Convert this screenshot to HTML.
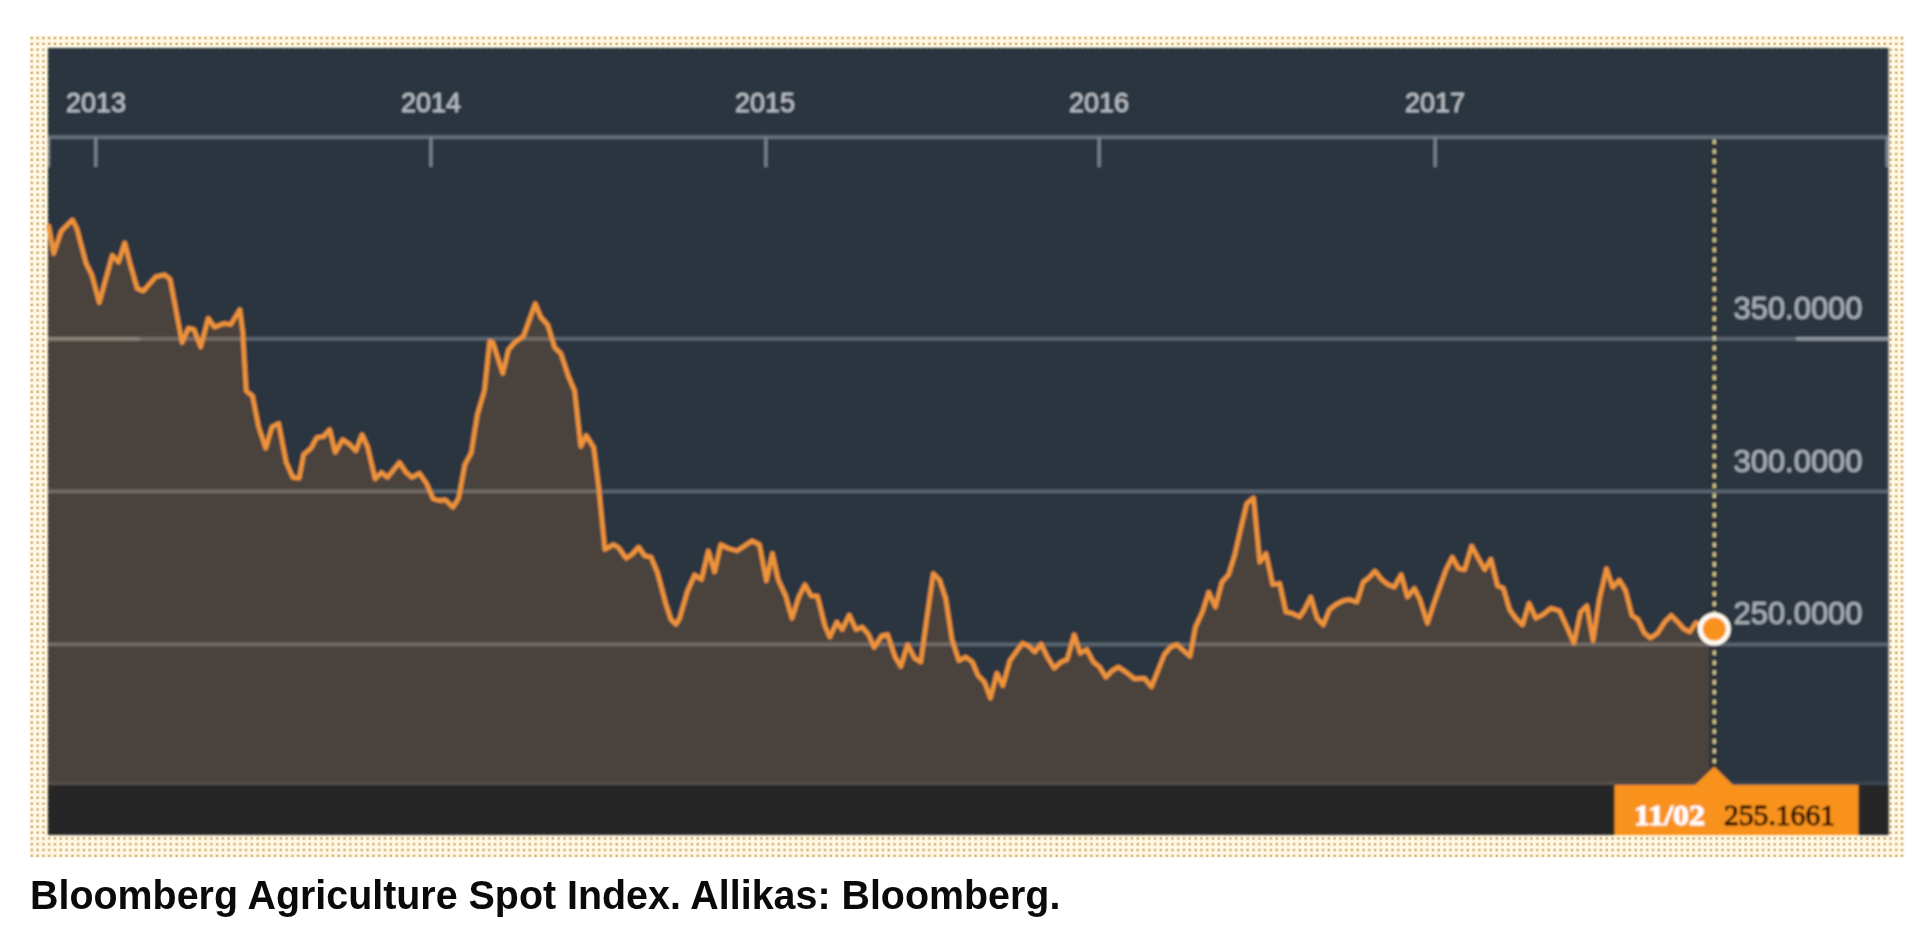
<!DOCTYPE html>
<html><head><meta charset="utf-8"><title>Bloomberg Agriculture Spot Index</title>
<style>
html,body{margin:0;padding:0;background:#fff;}
body{width:1920px;height:931px;overflow:hidden;position:relative;font-family:"Liberation Sans",sans-serif;}
svg{position:absolute;left:0;top:0;}
.ax{font-family:"Liberation Sans",sans-serif;fill:#bcc1c6;stroke:#bcc1c6;stroke-width:0.35px;}
.cap{filter:blur(0.4px);position:absolute;left:30px;top:872px;font:bold 41px "Liberation Sans",sans-serif;color:#0a0a0a;white-space:nowrap;transform-origin:0 0;transform:scaleX(0.961);}
</style></head><body>
<svg width="1920" height="931" viewBox="0 0 1920 931">
<defs>
<pattern id="dots" x="30.15" y="36.3" width="5.79" height="5.8" patternUnits="userSpaceOnUse">
<rect width="5.8" height="5.8" fill="#fff8e8"/>
<rect x="-0.3" y="-0.3" width="3.9" height="4" fill="#fdeec6"/>
<rect x="0.6" y="0.6" width="2.1" height="2.2" fill="#cbb184"/>
</pattern>
<filter id="soft" x="-2%" y="-2%" width="104%" height="104%"><feGaussianBlur stdDeviation="0.8"/></filter>
<filter id="soft2" x="-2%" y="-2%" width="104%" height="104%"><feGaussianBlur stdDeviation="0.35"/></filter>
<clipPath id="fillclip"><path d="M48.7,226.2 L53.7,253.6 L61.2,231.2 L72.4,219.9 L76.9,228.7 L86.1,263.6 L91.8,274.8 L99.3,302.7 L112.3,255.3 L118.5,262.3 L124.7,242.9 L129.7,262.3 L137.2,288.5 L143.4,291.0 L155.9,276.8 L164.6,274.8 L170.1,279.3 L182.1,342.6 L188.3,328.3 L194.0,329.6 L200.7,347.0 L208.2,318.4 L214.5,327.1 L224.4,323.4 L230.7,324.6 L239.9,309.7 L243.1,334.6 L243.0,337.4 L246.2,391.0 L252.5,396.0 L258.7,427.1 L265.7,448.3 L271.9,427.1 L278.6,423.4 L286.1,462.0 L292.8,477.4 L299.3,478.2 L303.6,454.5 L311.0,448.3 L316.8,437.6 L323.5,436.6 L329.7,429.6 L335.2,452.5 L342.7,439.6 L349.7,444.5 L355.9,450.8 L362.1,434.6 L367.6,447.0 L375.1,478.9 L381.6,472.5 L387.5,477.4 L399.5,462.5 L405.7,472.0 L412.0,477.4 L419.4,473.2 L426.4,483.2 L433.1,498.9 L439.4,500.6 L444.9,499.9 L446.2,500.6 L453.0,507.3 L458.7,498.1 L464.9,464.5 L471.2,453.2 L477.4,414.6 L484.4,390.9 L489.8,341.1 L492.8,342.3 L502.8,373.5 L508.5,349.8 L514.8,342.3 L523.5,336.1 L535.2,303.7 L540.9,317.4 L547.7,324.9 L554.6,347.3 L560.9,353.6 L568.3,376.0 L574.6,390.9 L580.8,446.5 L586.2,435.5 L593.7,447.4 L598.7,487.3 L604.9,549.6 L613.6,544.6 L618.6,547.6 L626.1,558.3 L632.3,554.1 L638.6,547.1 L644.8,555.9 L651.0,557.1 L657.3,572.1 L666.0,604.5 L671.0,619.4 L676.0,624.4 L679.7,618.2 L687.2,592.0 L694.6,575.0 L701.6,579.5 L708.3,550.9 L714.6,572.1 L720.8,544.6 L728.3,548.4 L737.0,550.9 L752.0,540.9 L759.4,544.6 L766.4,580.8 L772.4,553.4 L778.1,579.5 L785.6,595.7 L792.0,618.4 L798.7,597.2 L804.9,584.7 L811.2,596.0 L817.4,596.0 L824.9,625.9 L829.8,637.1 L836.8,622.1 L842.3,629.6 L849.3,615.1 L856.0,629.6 L862.2,627.1 L868.5,634.6 L874.2,647.5 L881.7,635.8 L887.7,634.6 L895.1,657.0 L900.9,666.5 L907.6,644.5 L914.6,658.3 L920.8,662.0 L927.0,617.1 L933.3,573.5 L939.5,579.8 L945.7,598.4 L952.0,639.6 L958.9,660.7 L965.7,657.0 L972.4,662.0 L978.1,675.7 L984.4,681.9 L990.5,698.1 L996.9,673.2 L1002.9,685.7 L1009.9,660.7 L1016.1,652.0 L1022.4,643.3 L1028.6,645.8 L1034.8,652.0 L1041.1,644.0 L1047.3,657.0 L1054.3,668.2 L1061.0,662.0 L1067.2,659.5 L1074.2,634.6 L1080.2,653.3 L1086.7,649.5 L1093.4,662.0 L1099.6,667.0 L1105.9,677.4 L1112.1,670.7 L1118.3,667.0 L1125.8,672.0 L1134.5,678.9 L1144.5,678.2 L1151.5,686.9 L1157.4,672.0 L1164.4,654.5 L1170.7,647.0 L1176.9,644.5 L1190.0,656.4 L1195.5,627.0 L1202.4,612.1 L1208.7,592.1 L1215.4,607.1 L1221.9,582.1 L1228.6,574.7 L1234.8,554.7 L1241.1,527.3 L1246.8,503.6 L1253.5,497.9 L1259.8,562.2 L1266.0,553.5 L1272.7,584.6 L1279.7,583.4 L1285.9,612.1 L1292.1,613.3 L1299.6,617.0 L1304.6,609.6 L1310.8,597.1 L1317.1,618.3 L1323.3,625.0 L1329.5,609.6 L1335.8,604.6 L1343.2,600.8 L1349.5,599.6 L1356.9,602.1 L1363.2,582.1 L1369.4,577.2 L1374.9,570.9 L1381.9,579.7 L1388.1,584.6 L1394.3,587.1 L1401.2,574.7 L1407.4,597.1 L1414.4,588.4 L1419.9,599.6 L1427.4,623.3 L1433.6,604.6 L1439.8,587.1 L1446.0,569.7 L1452.3,557.2 L1458.5,568.4 L1464.7,569.7 L1471.7,546.0 L1478.4,558.5 L1484.7,569.7 L1490.9,559.2 L1497.6,585.9 L1503.4,588.4 L1509.6,609.6 L1515.8,618.3 L1522.6,625.0 L1529.0,603.3 L1535.8,618.3 L1543.2,614.5 L1550.7,608.3 L1559.4,610.8 L1566.9,627.0 L1573.9,643.2 L1580.6,612.1 L1586.9,605.8 L1593.1,640.7 L1599.3,599.6 L1606.5,568.7 L1612.7,587.4 L1619.4,580.1 L1625.6,590.5 L1631.8,615.3 L1638.0,619.5 L1644.2,633.0 L1650.5,638.1 L1657.7,633.0 L1665.0,621.6 L1671.2,615.3 L1677.4,621.6 L1683.6,628.8 L1689.8,631.9 L1696.1,622.6 L1704.4,627.8 L1714.3,628.2 L1714.3,785 L48,785 L48,226 Z"/></clipPath>
</defs>
<rect x="29.5" y="35.5" width="1875" height="822" fill="url(#dots)" filter="url(#soft2)"/>
<g filter="url(#soft)">
<rect x="48" y="48" width="1840.5" height="787" fill="#2c3641"/>
<!-- area fill -->
<path d="M48.7,226.2 L53.7,253.6 L61.2,231.2 L72.4,219.9 L76.9,228.7 L86.1,263.6 L91.8,274.8 L99.3,302.7 L112.3,255.3 L118.5,262.3 L124.7,242.9 L129.7,262.3 L137.2,288.5 L143.4,291.0 L155.9,276.8 L164.6,274.8 L170.1,279.3 L182.1,342.6 L188.3,328.3 L194.0,329.6 L200.7,347.0 L208.2,318.4 L214.5,327.1 L224.4,323.4 L230.7,324.6 L239.9,309.7 L243.1,334.6 L243.0,337.4 L246.2,391.0 L252.5,396.0 L258.7,427.1 L265.7,448.3 L271.9,427.1 L278.6,423.4 L286.1,462.0 L292.8,477.4 L299.3,478.2 L303.6,454.5 L311.0,448.3 L316.8,437.6 L323.5,436.6 L329.7,429.6 L335.2,452.5 L342.7,439.6 L349.7,444.5 L355.9,450.8 L362.1,434.6 L367.6,447.0 L375.1,478.9 L381.6,472.5 L387.5,477.4 L399.5,462.5 L405.7,472.0 L412.0,477.4 L419.4,473.2 L426.4,483.2 L433.1,498.9 L439.4,500.6 L444.9,499.9 L446.2,500.6 L453.0,507.3 L458.7,498.1 L464.9,464.5 L471.2,453.2 L477.4,414.6 L484.4,390.9 L489.8,341.1 L492.8,342.3 L502.8,373.5 L508.5,349.8 L514.8,342.3 L523.5,336.1 L535.2,303.7 L540.9,317.4 L547.7,324.9 L554.6,347.3 L560.9,353.6 L568.3,376.0 L574.6,390.9 L580.8,446.5 L586.2,435.5 L593.7,447.4 L598.7,487.3 L604.9,549.6 L613.6,544.6 L618.6,547.6 L626.1,558.3 L632.3,554.1 L638.6,547.1 L644.8,555.9 L651.0,557.1 L657.3,572.1 L666.0,604.5 L671.0,619.4 L676.0,624.4 L679.7,618.2 L687.2,592.0 L694.6,575.0 L701.6,579.5 L708.3,550.9 L714.6,572.1 L720.8,544.6 L728.3,548.4 L737.0,550.9 L752.0,540.9 L759.4,544.6 L766.4,580.8 L772.4,553.4 L778.1,579.5 L785.6,595.7 L792.0,618.4 L798.7,597.2 L804.9,584.7 L811.2,596.0 L817.4,596.0 L824.9,625.9 L829.8,637.1 L836.8,622.1 L842.3,629.6 L849.3,615.1 L856.0,629.6 L862.2,627.1 L868.5,634.6 L874.2,647.5 L881.7,635.8 L887.7,634.6 L895.1,657.0 L900.9,666.5 L907.6,644.5 L914.6,658.3 L920.8,662.0 L927.0,617.1 L933.3,573.5 L939.5,579.8 L945.7,598.4 L952.0,639.6 L958.9,660.7 L965.7,657.0 L972.4,662.0 L978.1,675.7 L984.4,681.9 L990.5,698.1 L996.9,673.2 L1002.9,685.7 L1009.9,660.7 L1016.1,652.0 L1022.4,643.3 L1028.6,645.8 L1034.8,652.0 L1041.1,644.0 L1047.3,657.0 L1054.3,668.2 L1061.0,662.0 L1067.2,659.5 L1074.2,634.6 L1080.2,653.3 L1086.7,649.5 L1093.4,662.0 L1099.6,667.0 L1105.9,677.4 L1112.1,670.7 L1118.3,667.0 L1125.8,672.0 L1134.5,678.9 L1144.5,678.2 L1151.5,686.9 L1157.4,672.0 L1164.4,654.5 L1170.7,647.0 L1176.9,644.5 L1190.0,656.4 L1195.5,627.0 L1202.4,612.1 L1208.7,592.1 L1215.4,607.1 L1221.9,582.1 L1228.6,574.7 L1234.8,554.7 L1241.1,527.3 L1246.8,503.6 L1253.5,497.9 L1259.8,562.2 L1266.0,553.5 L1272.7,584.6 L1279.7,583.4 L1285.9,612.1 L1292.1,613.3 L1299.6,617.0 L1304.6,609.6 L1310.8,597.1 L1317.1,618.3 L1323.3,625.0 L1329.5,609.6 L1335.8,604.6 L1343.2,600.8 L1349.5,599.6 L1356.9,602.1 L1363.2,582.1 L1369.4,577.2 L1374.9,570.9 L1381.9,579.7 L1388.1,584.6 L1394.3,587.1 L1401.2,574.7 L1407.4,597.1 L1414.4,588.4 L1419.9,599.6 L1427.4,623.3 L1433.6,604.6 L1439.8,587.1 L1446.0,569.7 L1452.3,557.2 L1458.5,568.4 L1464.7,569.7 L1471.7,546.0 L1478.4,558.5 L1484.7,569.7 L1490.9,559.2 L1497.6,585.9 L1503.4,588.4 L1509.6,609.6 L1515.8,618.3 L1522.6,625.0 L1529.0,603.3 L1535.8,618.3 L1543.2,614.5 L1550.7,608.3 L1559.4,610.8 L1566.9,627.0 L1573.9,643.2 L1580.6,612.1 L1586.9,605.8 L1593.1,640.7 L1599.3,599.6 L1606.5,568.7 L1612.7,587.4 L1619.4,580.1 L1625.6,590.5 L1631.8,615.3 L1638.0,619.5 L1644.2,633.0 L1650.5,638.1 L1657.7,633.0 L1665.0,621.6 L1671.2,615.3 L1677.4,621.6 L1683.6,628.8 L1689.8,631.9 L1696.1,622.6 L1704.4,627.8 L1714.3,628.2 L1714.3,785 L48,785 L48,226 Z" fill="#4a423d"/>
<!-- cursor backing -->
<line x1="1713.8" y1="139" x2="1713.8" y2="768" stroke="#2b3037" stroke-width="9" />
<!-- gridlines -->
<g>
<rect x="48" y="135.2" width="1840.5" height="3.8" fill="#646d77"/>
<rect x="48" y="337" width="1840.5" height="3.6" fill="#5b6570"/>
<rect x="48" y="489.6" width="1840.5" height="3.6" fill="#5b6570"/>
<rect x="48" y="642.6" width="1840.5" height="3.6" fill="#5b6570"/>
<g clip-path="url(#fillclip)">
<rect x="48" y="337" width="1840.5" height="3.6" fill="#736b65"/>
<rect x="48" y="489.6" width="1840.5" height="3.6" fill="#736b65"/>
<rect x="48" y="642.6" width="1840.5" height="3.6" fill="#736b65"/>
<rect x="48" y="337" width="92" height="3.6" fill="#8a8078"/>
</g>
<rect x="1796" y="337" width="92.5" height="3.6" fill="#8e949b"/>
</g>
<!-- ticks -->
<g fill="#79828b">
<rect x="48" y="137" width="2" height="30"/>
<rect x="94.2" y="137" width="3.2" height="30"/>
<rect x="429.3" y="137" width="3.2" height="30"/>
<rect x="764.3" y="137" width="3.2" height="30"/>
<rect x="1097.5" y="137" width="3.2" height="30"/>
<rect x="1433.5" y="137" width="3.2" height="30"/>
<rect x="1885.5" y="137" width="3.2" height="30"/>
</g>
<rect x="48" y="781.5" width="1840.5" height="3.5" fill="#8a8f94" opacity="0.17"/>
<!-- bottom bar -->
<rect x="48" y="785" width="1840.5" height="50" fill="#252525"/>
<!-- line -->
<path d="M48.7,226.2 L53.7,253.6 L61.2,231.2 L72.4,219.9 L76.9,228.7 L86.1,263.6 L91.8,274.8 L99.3,302.7 L112.3,255.3 L118.5,262.3 L124.7,242.9 L129.7,262.3 L137.2,288.5 L143.4,291.0 L155.9,276.8 L164.6,274.8 L170.1,279.3 L182.1,342.6 L188.3,328.3 L194.0,329.6 L200.7,347.0 L208.2,318.4 L214.5,327.1 L224.4,323.4 L230.7,324.6 L239.9,309.7 L243.1,334.6 L243.0,337.4 L246.2,391.0 L252.5,396.0 L258.7,427.1 L265.7,448.3 L271.9,427.1 L278.6,423.4 L286.1,462.0 L292.8,477.4 L299.3,478.2 L303.6,454.5 L311.0,448.3 L316.8,437.6 L323.5,436.6 L329.7,429.6 L335.2,452.5 L342.7,439.6 L349.7,444.5 L355.9,450.8 L362.1,434.6 L367.6,447.0 L375.1,478.9 L381.6,472.5 L387.5,477.4 L399.5,462.5 L405.7,472.0 L412.0,477.4 L419.4,473.2 L426.4,483.2 L433.1,498.9 L439.4,500.6 L444.9,499.9 L446.2,500.6 L453.0,507.3 L458.7,498.1 L464.9,464.5 L471.2,453.2 L477.4,414.6 L484.4,390.9 L489.8,341.1 L492.8,342.3 L502.8,373.5 L508.5,349.8 L514.8,342.3 L523.5,336.1 L535.2,303.7 L540.9,317.4 L547.7,324.9 L554.6,347.3 L560.9,353.6 L568.3,376.0 L574.6,390.9 L580.8,446.5 L586.2,435.5 L593.7,447.4 L598.7,487.3 L604.9,549.6 L613.6,544.6 L618.6,547.6 L626.1,558.3 L632.3,554.1 L638.6,547.1 L644.8,555.9 L651.0,557.1 L657.3,572.1 L666.0,604.5 L671.0,619.4 L676.0,624.4 L679.7,618.2 L687.2,592.0 L694.6,575.0 L701.6,579.5 L708.3,550.9 L714.6,572.1 L720.8,544.6 L728.3,548.4 L737.0,550.9 L752.0,540.9 L759.4,544.6 L766.4,580.8 L772.4,553.4 L778.1,579.5 L785.6,595.7 L792.0,618.4 L798.7,597.2 L804.9,584.7 L811.2,596.0 L817.4,596.0 L824.9,625.9 L829.8,637.1 L836.8,622.1 L842.3,629.6 L849.3,615.1 L856.0,629.6 L862.2,627.1 L868.5,634.6 L874.2,647.5 L881.7,635.8 L887.7,634.6 L895.1,657.0 L900.9,666.5 L907.6,644.5 L914.6,658.3 L920.8,662.0 L927.0,617.1 L933.3,573.5 L939.5,579.8 L945.7,598.4 L952.0,639.6 L958.9,660.7 L965.7,657.0 L972.4,662.0 L978.1,675.7 L984.4,681.9 L990.5,698.1 L996.9,673.2 L1002.9,685.7 L1009.9,660.7 L1016.1,652.0 L1022.4,643.3 L1028.6,645.8 L1034.8,652.0 L1041.1,644.0 L1047.3,657.0 L1054.3,668.2 L1061.0,662.0 L1067.2,659.5 L1074.2,634.6 L1080.2,653.3 L1086.7,649.5 L1093.4,662.0 L1099.6,667.0 L1105.9,677.4 L1112.1,670.7 L1118.3,667.0 L1125.8,672.0 L1134.5,678.9 L1144.5,678.2 L1151.5,686.9 L1157.4,672.0 L1164.4,654.5 L1170.7,647.0 L1176.9,644.5 L1190.0,656.4 L1195.5,627.0 L1202.4,612.1 L1208.7,592.1 L1215.4,607.1 L1221.9,582.1 L1228.6,574.7 L1234.8,554.7 L1241.1,527.3 L1246.8,503.6 L1253.5,497.9 L1259.8,562.2 L1266.0,553.5 L1272.7,584.6 L1279.7,583.4 L1285.9,612.1 L1292.1,613.3 L1299.6,617.0 L1304.6,609.6 L1310.8,597.1 L1317.1,618.3 L1323.3,625.0 L1329.5,609.6 L1335.8,604.6 L1343.2,600.8 L1349.5,599.6 L1356.9,602.1 L1363.2,582.1 L1369.4,577.2 L1374.9,570.9 L1381.9,579.7 L1388.1,584.6 L1394.3,587.1 L1401.2,574.7 L1407.4,597.1 L1414.4,588.4 L1419.9,599.6 L1427.4,623.3 L1433.6,604.6 L1439.8,587.1 L1446.0,569.7 L1452.3,557.2 L1458.5,568.4 L1464.7,569.7 L1471.7,546.0 L1478.4,558.5 L1484.7,569.7 L1490.9,559.2 L1497.6,585.9 L1503.4,588.4 L1509.6,609.6 L1515.8,618.3 L1522.6,625.0 L1529.0,603.3 L1535.8,618.3 L1543.2,614.5 L1550.7,608.3 L1559.4,610.8 L1566.9,627.0 L1573.9,643.2 L1580.6,612.1 L1586.9,605.8 L1593.1,640.7 L1599.3,599.6 L1606.5,568.7 L1612.7,587.4 L1619.4,580.1 L1625.6,590.5 L1631.8,615.3 L1638.0,619.5 L1644.2,633.0 L1650.5,638.1 L1657.7,633.0 L1665.0,621.6 L1671.2,615.3 L1677.4,621.6 L1683.6,628.8 L1689.8,631.9 L1696.1,622.6 L1704.4,627.8 L1714.3,628.2" fill="none" stroke="#ee933a" stroke-width="4.6" stroke-linejoin="round" stroke-linecap="round"/>
<!-- dotted cursor -->
<line x1="1714.3" y1="139.4" x2="1714.3" y2="768" stroke="#d6cb90" stroke-width="3.2" stroke-dasharray="4.6 5.23"/>
<!-- marker -->
<circle cx="1714.3" cy="629" r="14" fill="#f9921e" stroke="#fffaf0" stroke-width="5"/>
<!-- tooltip -->
<path d="M1614.5,785 L1695,785 L1714.3,766.5 L1733,785 L1858.5,785 L1858.5,835 L1614.5,835 Z" fill="#f9921e"/>
<text x="1634" y="825" font-family="Liberation Serif,serif" font-weight="bold" font-size="30" fill="#fff" stroke="#fff" stroke-width="0.9" textLength="71" lengthAdjust="spacingAndGlyphs">11/02</text>
<text x="1724" y="825" font-family="Liberation Serif,serif" font-size="30" fill="#260e02" stroke="#260e02" stroke-width="1.1" textLength="111" lengthAdjust="spacingAndGlyphs">255.1661</text>
<!-- axis labels -->
<text class="ax" x="66" y="112" font-size="27">2013</text>
<text class="ax" x="401" y="112" font-size="27">2014</text>
<text class="ax" x="735" y="112" font-size="27">2015</text>
<text class="ax" x="1069" y="112" font-size="27">2016</text>
<text class="ax" x="1405" y="112" font-size="27">2017</text>
<text class="ax" x="1733.5" y="319" font-size="31" style="stroke-width:0.6px;fill:#a9afb6;stroke:#a9afb6" textLength="129" lengthAdjust="spacingAndGlyphs">350.0000</text>
<text class="ax" x="1733.5" y="471.5" font-size="31" style="stroke-width:0.6px;fill:#a9afb6;stroke:#a9afb6" textLength="129" lengthAdjust="spacingAndGlyphs">300.0000</text>
<text class="ax" x="1733.5" y="624" font-size="31" style="stroke-width:0.6px;fill:#a9afb6;stroke:#a9afb6" textLength="129" lengthAdjust="spacingAndGlyphs">250.0000</text>
</g>
</svg>
<div class="cap" id="cap">Bloomberg Agriculture Spot Index. Allikas: Bloomberg.</div>
</body></html>
